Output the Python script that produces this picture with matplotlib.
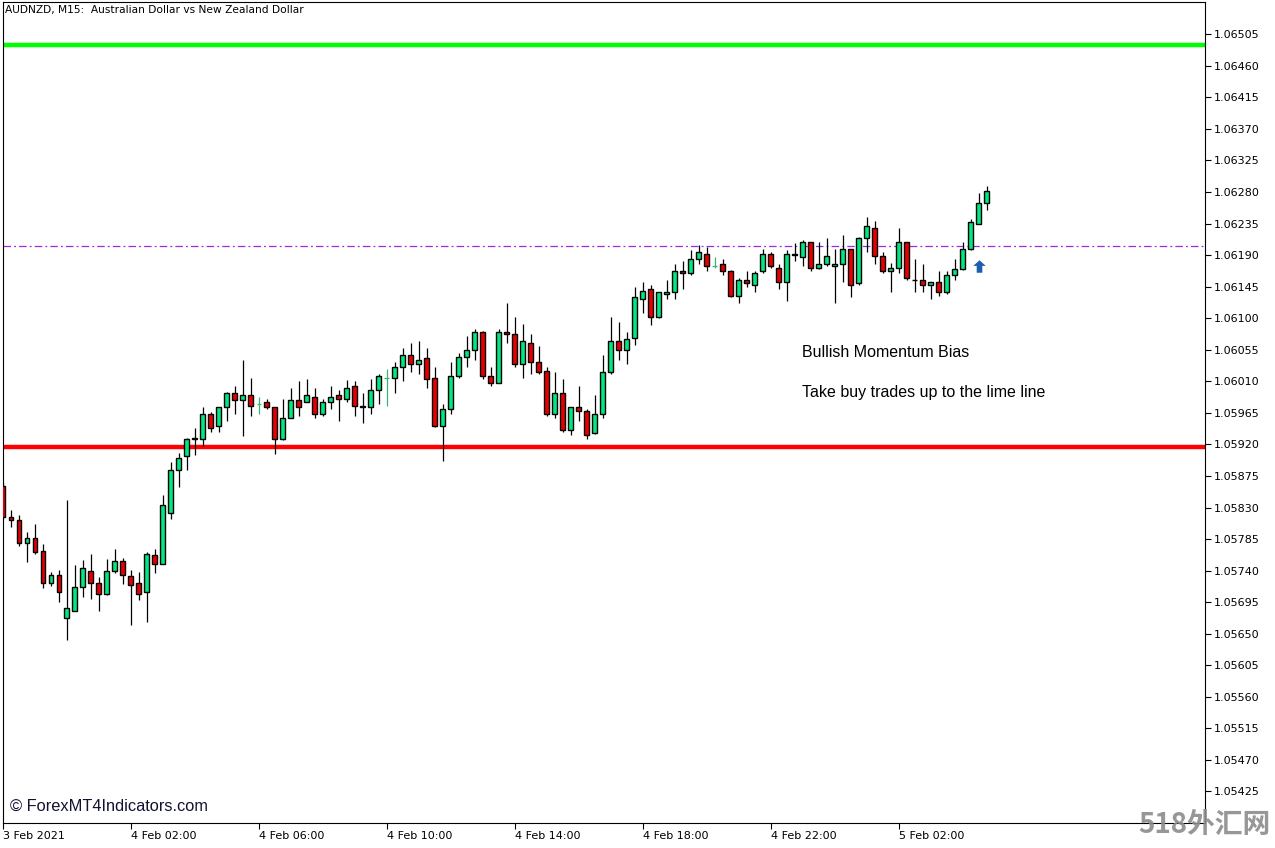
import numpy as np
import matplotlib
matplotlib.use('Agg')
import matplotlib.pyplot as plt

# AUDNZD M15 candles (3 Feb 22:00 -> 5 Feb 04:45)
opens = [1.05861, 1.05816, 1.05812, 1.05780, 1.05787, 1.05768, 1.05722, 1.05734, 1.05672, 1.05683,
         1.05717, 1.05740, 1.05723, 1.05706, 1.05740, 1.05754, 1.05733, 1.05722, 1.05709, 1.05762,
         1.05750, 1.05822, 1.05883, 1.05903, 1.05929, 1.05928, 1.05963, 1.05946, 1.05973, 1.05993,
         1.05983, 1.05990, 1.05978, 1.05980, 1.05973, 1.05928, 1.05958, 1.05983, 1.05981, 1.05988,
         1.05963, 1.05980, 1.05990, 1.05985, 1.06003, 1.05975, 1.05973, 1.05998, 1.06014, 1.06014,
         1.06030, 1.06047, 1.06035, 1.06043, 1.06014, 1.05946, 1.05971, 1.06017, 1.06045, 1.06054,
         1.06080, 1.06018, 1.06008, 1.06080, 1.06078, 1.06034, 1.06065, 1.06038, 1.06024, 1.05964,
         1.05993, 1.05941, 1.05973, 1.05968, 1.05936, 1.05964, 1.06023, 1.06067, 1.06055, 1.06072,
         1.06128, 1.06141, 1.06101, 1.06135, 1.06138, 1.06168, 1.06165, 1.06184, 1.06192, 1.06175,
         1.06177, 1.06168, 1.06132, 1.06155, 1.06148, 1.06167, 1.06191, 1.06172, 1.06151, 1.06190,
         1.06188, 1.06208, 1.06171, 1.06178, 1.06174, 1.06178, 1.06198, 1.06150, 1.06214, 1.06228,
         1.06189, 1.06168, 1.06171, 1.06208, 1.06155, 1.06154, 1.06147, 1.06151, 1.06138, 1.06161,
         1.06170, 1.06198, 1.06235, 1.06265]
highs = [1.05866, 1.05826, 1.05819, 1.05795, 1.05806, 1.05778, 1.05738, 1.05741, 1.05840, 1.05748,
         1.05755, 1.05763, 1.05731, 1.05756, 1.05771, 1.05758, 1.05741, 1.05738, 1.05766, 1.05771,
         1.05848, 1.05895, 1.05908, 1.05929, 1.05944, 1.05973, 1.05966, 1.05974, 1.05995, 1.06004,
         1.06040, 1.06014, 1.05988, 1.05985, 1.05974, 1.05985, 1.06000, 1.06010, 1.06013, 1.06001,
         1.05985, 1.06003, 1.05997, 1.06012, 1.06010, 1.05994, 1.06013, 1.06020, 1.06027, 1.06037,
         1.06057, 1.06064, 1.06068, 1.06057, 1.06030, 1.05977, 1.06037, 1.06050, 1.06074, 1.06085,
         1.06082, 1.06030, 1.06084, 1.06122, 1.06102, 1.06092, 1.06078, 1.06060, 1.06031, 1.06023,
         1.06013, 1.05974, 1.06003, 1.05971, 1.05990, 1.06047, 1.06102, 1.06094, 1.06080, 1.06144,
         1.06152, 1.06147, 1.06138, 1.06154, 1.06178, 1.06181, 1.06197, 1.06205, 1.06202, 1.06187,
         1.06185, 1.06169, 1.06158, 1.06168, 1.06168, 1.06198, 1.06194, 1.06178, 1.06197, 1.06207,
         1.06211, 1.06209, 1.06209, 1.06214, 1.06198, 1.06219, 1.06199, 1.06216, 1.06245, 1.06238,
         1.06195, 1.06179, 1.06229, 1.06209, 1.06184, 1.06178, 1.06152, 1.06167, 1.06168, 1.06184,
         1.06208, 1.06242, 1.06278, 1.06289]
lows = [1.05814, 1.05802, 1.05775, 1.05752, 1.05764, 1.05715, 1.05718, 1.05695, 1.05641, 1.05682,
        1.05703, 1.05700, 1.05683, 1.05705, 1.05737, 1.05721, 1.05663, 1.05698, 1.05667, 1.05737,
        1.05749, 1.05814, 1.05859, 1.05883, 1.05905, 1.05918, 1.05938, 1.05938, 1.05953, 1.05963,
        1.05932, 1.05961, 1.05964, 1.05970, 1.05906, 1.05926, 1.05957, 1.05961, 1.05980, 1.05958,
        1.05961, 1.05970, 1.05954, 1.05980, 1.05960, 1.05951, 1.05963, 1.05977, 1.05975, 1.05993,
        1.06011, 1.06023, 1.06020, 1.06000, 1.05945, 1.05896, 1.05963, 1.06014, 1.06031, 1.06040,
        1.06013, 1.06004, 1.06007, 1.06064, 1.06030, 1.06014, 1.06021, 1.06020, 1.05961, 1.05958,
        1.05938, 1.05933, 1.05953, 1.05927, 1.05935, 1.05958, 1.06020, 1.06040, 1.06034, 1.06062,
        1.06107, 1.06091, 1.06100, 1.06128, 1.06127, 1.06141, 1.06162, 1.06177, 1.06168, 1.06171,
        1.06161, 1.06130, 1.06121, 1.06145, 1.06137, 1.06164, 1.06171, 1.06142, 1.06124, 1.06182,
        1.06175, 1.06168, 1.06170, 1.06174, 1.06122, 1.06152, 1.06130, 1.06147, 1.06195, 1.06178,
        1.06165, 1.06138, 1.06165, 1.06155, 1.06138, 1.06138, 1.06128, 1.06131, 1.06135, 1.06154,
        1.06169, 1.06197, 1.06234, 1.06255]
closes = [1.05816, 1.05812, 1.05779, 1.05787, 1.05766, 1.05722, 1.05734, 1.05710, 1.05686, 1.05717,
          1.05743, 1.05723, 1.05707, 1.05740, 1.05753, 1.05734, 1.05720, 1.05707, 1.05763, 1.05750,
          1.05834, 1.05883, 1.05901, 1.05927, 1.05928, 1.05963, 1.05944, 1.05973, 1.05994, 1.05983,
          1.05991, 1.05975, 1.05978, 1.05973, 1.05928, 1.05958, 1.05983, 1.05974, 1.05990, 1.05964,
          1.05980, 1.05988, 1.05985, 1.06001, 1.05975, 1.05973, 1.05998, 1.06017, 1.06014, 1.06030,
          1.06047, 1.06035, 1.06041, 1.06013, 1.05946, 1.05971, 1.06017, 1.06045, 1.06054, 1.06080,
          1.06018, 1.06007, 1.06080, 1.06077, 1.06035, 1.06067, 1.06038, 1.06023, 1.05964, 1.05993,
          1.05941, 1.05973, 1.05968, 1.05934, 1.05964, 1.06023, 1.06067, 1.06055, 1.06070, 1.06130,
          1.06139, 1.06102, 1.06137, 1.06138, 1.06168, 1.06164, 1.06185, 1.06194, 1.06175, 1.06175,
          1.06168, 1.06131, 1.06154, 1.06150, 1.06165, 1.06191, 1.06174, 1.06151, 1.06191, 1.06191,
          1.06208, 1.06171, 1.06177, 1.06189, 1.06178, 1.06198, 1.06148, 1.06215, 1.06231, 1.06189,
          1.06168, 1.06171, 1.06209, 1.06157, 1.06154, 1.06148, 1.06151, 1.06137, 1.06161, 1.06170,
          1.06198, 1.06237, 1.06265, 1.06282]

time_labels = ['3 Feb 2021', '4 Feb 02:00', '4 Feb 06:00', '4 Feb 10:00',
               '4 Feb 14:00', '4 Feb 18:00', '4 Feb 22:00', '5 Feb 02:00']
label_bars = [0, 16, 32, 48, 64, 80, 96, 112]

lime_level = 1.06489
red_level = 1.05917
mid_level = 1.06203
arrow_bar = 122
arrow_price = 1.06174

price_ticks = [1.05425 + 0.00045 * k for k in range(25)]

o = np.array(opens); h = np.array(highs); l = np.array(lows); c = np.array(closes)
x = np.arange(len(o))

fig = plt.figure(figsize=(12.75, 8.48), dpi=100)
ax = fig.add_axes([3/1275, 1 - 823/848, 1202/1275, 821/848])

ax.axhline(lime_level, color='#00ff00', lw=3.2, zorder=1)
ax.axhline(red_level, color='#ff0000', lw=3.2, zorder=1)
ax.axhline(mid_level, color='#9a2be2', lw=0.9, dashes=(6, 2.5, 1.5, 2.5), zorder=1)

up = c > o
down = c < o
flat = c == o

ax.vlines(x[~flat], l[~flat], h[~flat], color='black', lw=0.9, zorder=2)
ax.vlines(x[flat], l[flat], h[flat], color='#3cb371', lw=0.9, zorder=2)
ax.hlines(o[flat], x[flat] - 0.3, x[flat] + 0.3, color='#3cb371', lw=0.9, zorder=2)

body_lo = np.minimum(o, c)
body_h = np.abs(c - o)
ax.bar(x[up], body_h[up], bottom=body_lo[up], width=0.62, color='#00e87f',
       edgecolor='black', linewidth=1.0, zorder=3)
ax.bar(x[down], body_h[down], bottom=body_lo[down], width=0.62, color='#e80000',
       edgecolor='black', linewidth=1.0, zorder=3)

arrow = [(0, 1), (1, 0.1), (0.45, 0.1), (0.45, -1), (-0.45, -1), (-0.45, 0.1), (-1, 0.1), (0, 1)]
ax.plot([arrow_bar], [arrow_price], marker=arrow, markersize=9, color='#1c5fb0',
        markeredgewidth=0, zorder=4)

ax.set_xlim(0.09, 150.3)
ax.set_ylim(1.05380, 1.06551)

ax.yaxis.tick_right()
ax.set_yticks(price_ticks)
ax.set_yticklabels(['%.5f' % p for p in price_ticks])
ax.tick_params(axis='y', direction='out', length=4, width=0.8, pad=2, labelsize=8)
for lab in ax.get_yticklabels():
    lab.set_horizontalalignment('left')

ax.set_xticks(label_bars)
ax.set_xticklabels(time_labels)
ax.tick_params(axis='x', direction='out', length=4, width=0.8, pad=2, labelsize=8)
for lab in ax.get_xticklabels():
    lab.set_horizontalalignment('left')

for s in ax.spines.values():
    s.set_linewidth(0.8)

ax.text(0.0017, 0.9905, 'AUDNZD, M15:  Australian Dollar vs New Zealand Dollar',
        transform=ax.transAxes, fontsize=7.7, va='center', ha='left')
ax.text(0.0055, 0.0205, '\u00a9 ForexMT4Indicators.com', transform=ax.transAxes,
        fontsize=11.8, family='Liberation Sans', va='center', ha='left', color='#111133')
ax.text(0.665, 0.573, 'Bullish Momentum Bias', transform=ax.transAxes,
        fontsize=11.5, family='Liberation Sans', va='center', ha='left')
ax.text(0.665, 0.5243, 'Take buy trades up to the lime line', transform=ax.transAxes,
        fontsize=11.5, family='Liberation Sans', va='center', ha='left')

fig.text(1204/1275, 1 - 825/848, '518外汇网', family=['Noto Sans CJK SC', 'DejaVu Sans'],
         fontsize=20, fontweight='bold', color='#8c8c8c', alpha=0.9, ha='center', va='center')

fig.savefig('out.png', dpi=100)
